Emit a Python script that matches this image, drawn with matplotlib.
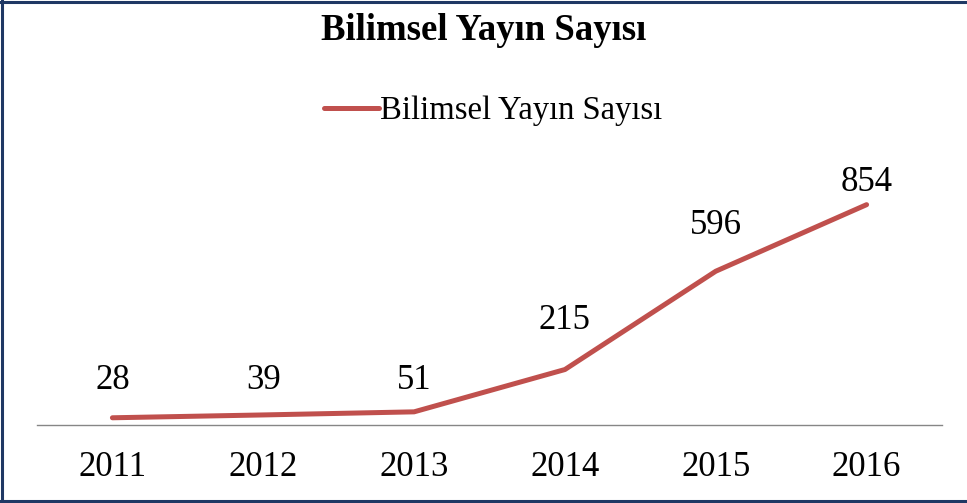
import matplotlib
matplotlib.use("Agg")
import matplotlib.pyplot as plt
from matplotlib.lines import Line2D

years = ['2011', '2012', '2013', '2014', '2015', '2016']
yayin = [28, 39, 51, 215, 596, 854]
label_dy = [37, 34, 31, 49, 46, 22]   # px above each point, as in the original

plt.rcParams['font.family'] = ['Liberation Serif', 'DejaVu Serif']

W, H = 967, 503
fig = plt.figure(figsize=(W / 100, H / 100), dpi=100)
ax = fig.add_axes([37 / W, 1 - 425 / H, (942 - 37) / W, (425 - 167) / H])

x = list(range(len(years)))
ax.plot(x, yayin, color='#C0504D', lw=3.6, solid_capstyle='round',
        solid_joinstyle='round', label='Bilimsel Yayın Sayısı')
for xi, v, dy in zip(x, yayin, label_dy):
    ax.annotate(str(v), (xi, v), xytext=(0, dy), textcoords='offset pixels',
                ha='center', va='center', fontsize=25)

ax.set_xlim(-0.5, len(years) - 0.5)
ax.set_ylim(0, 1000)
ax.set_xticks(x)
ax.set_xticklabels(years, fontsize=25)
ax.tick_params(axis='x', length=0, pad=19)
ax.set_yticks([])
for s in ['top', 'right', 'left']:
    ax.spines[s].set_visible(False)
ax.spines['bottom'].set_color('#868686')
ax.spines['bottom'].set_linewidth(1)
ax.patch.set_visible(False)

fig.text(484 / W, 1 - 31 / H, 'Bilimsel Yayın Sayısı', ha='center', va='center',
         fontsize=26.5, fontweight='bold')
ax.legend(loc='center', bbox_to_anchor=(493 / W, 1 - 111 / H), bbox_transform=fig.transFigure,
          frameon=False, fontsize=23.5, handlelength=1.7, handletextpad=0.02)

# chart frame (top, left, bottom)
navy = '#1F3864'
fig.add_artist(Line2D([0, 1], [1 - 1.5 / H, 1 - 1.5 / H], color=navy, lw=2.2, transform=fig.transFigure))
fig.add_artist(Line2D([2 / W, 2 / W], [0, 1], color=navy, lw=2.2, transform=fig.transFigure))
fig.add_artist(Line2D([0, 1], [2 / H, 2 / H], color=navy, lw=2.2, transform=fig.transFigure))

fig.savefig('out.png', dpi=100)
